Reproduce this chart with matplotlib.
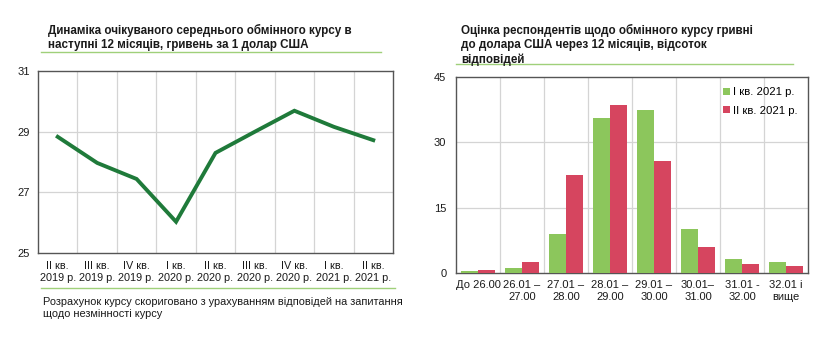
import matplotlib
matplotlib.use("Agg")
import matplotlib.pyplot as plt
import numpy as np
from matplotlib.lines import Line2D

plt.rcParams['font.family'] = ['Liberation Sans', 'DejaVu Sans']

# Expected average exchange rate, UAH per 1 USD
quarters = ["II кв.\n2019 р.", "III кв.\n2019 р.", "IV кв.\n2019 р.", "I кв.\n2020 р.",
            "II кв.\n2020 р.", "III кв.\n2020 р.", "IV кв.\n2020 р.", "I кв.\n2021 р.",
            "II кв.\n2021 р."]
expected_rate = [28.83, 27.97, 27.44, 26.03, 28.30, 29.00, 29.69, 29.16, 28.72]
rate_ticks = [25, 27, 29, 31]

# Distribution of answers, % of respondents
ranges = ["До 26.00", "26.01 –\n27.00", "27.01 –\n28.00", "28.01 –\n29.00",
          "29.01 –\n30.00", "30.01–\n31.00", "31.01 -\n32.00", "32.01 і\nвище"]
share_q1_2021 = [0.5, 1.2, 8.9, 35.5, 37.5, 10.0, 3.1, 2.5]
share_q2_2021 = [0.7, 2.45, 22.5, 38.5, 25.7, 6.0, 2.1, 1.5]
share_ticks = [0, 15, 30, 45]
series_names = ["I кв. 2021 р.", "II кв. 2021 р."]

W, H = 835, 348
fig = plt.figure(figsize=(W / 100, H / 100), dpi=100)
fig.patch.set_facecolor("white")

LINE_GREEN = "#1f7a3a"
BAR_GREEN = "#8cc65c"
BAR_RED = "#d6455f"
RULE_GREEN = "#9fd07a"
GRID = "#d4d4d4"
FRAME = "#555555"
TEXT = "#1a1a1a"


def px_axes(x0, y0, x1, y1):
    return fig.add_axes([x0 / W, 1 - y1 / H, (x1 - x0) / W, (y1 - y0) / H])


def style_frame(ax):
    for side in ["top", "right", "left", "bottom"]:
        ax.spines[side].set_color(FRAME)
        ax.spines[side].set_linewidth(1.0)
    ax.tick_params(axis="both", length=0, colors=TEXT, pad=6)


def rule(x0, x1, y):
    fig.add_artist(Line2D([x0 / W, x1 / W], [1 - y / H, 1 - y / H],
                          color=RULE_GREEN, lw=1.0, transform=fig.transFigure))


# ---- Left panel: line chart ----
ax1 = px_axes(38, 71, 393, 253)
style_frame(ax1)
x = np.arange(len(quarters))
ax1.plot(x, expected_rate, color=LINE_GREEN, lw=2.8, solid_joinstyle="miter", zorder=3)
ax1.set_xlim(-0.5, len(quarters) - 0.5)
ax1.set_ylim(25, 31)
ax1.set_yticks(rate_ticks)
ax1.set_yticklabels([str(v) for v in rate_ticks])
ax1.set_xticks(x)
ax1.set_xticklabels(quarters, linespacing=1.25)
ax1.tick_params(axis="x", labelsize=7.8, pad=6)
ax1.tick_params(axis="y", labelsize=8, pad=6)
for b in np.arange(0.5, len(quarters) - 0.5, 1):
    ax1.axvline(b, color=GRID, lw=0.9, zorder=1)
for v in rate_ticks[1:-1]:
    ax1.axhline(v, color=GRID, lw=0.9, zorder=1)

fig.text(48 / W, 1 - 24 / H,
         "Динаміка очікуваного середнього обмінного курсу в\nнаступні 12 місяців, гривень за 1 долар США",
         fontsize=8.4, fontweight="bold", color=TEXT, va="top", ha="left", linespacing=1.25)
rule(41, 381, 52)
rule(41, 395, 288)
fig.text(43 / W, 1 - 297 / H,
         "Розрахунок курсу скориговано з урахуванням відповідей на запитання\nщодо незмінності курсу",
         fontsize=7.9, color=TEXT, va="top", ha="left", linespacing=1.25)

# ---- Right panel: grouped bars ----
ax2 = px_axes(456, 77, 808, 273)
style_frame(ax2)
xr = np.arange(len(ranges))
bw = 0.38
ax2.bar(xr - bw / 2, share_q1_2021, width=bw, color=BAR_GREEN, zorder=3, label=series_names[0])
ax2.bar(xr + bw / 2, share_q2_2021, width=bw, color=BAR_RED, zorder=3, label=series_names[1])
ax2.set_xlim(-0.5, len(ranges) - 0.5)
ax2.set_ylim(0, 45)
ax2.set_yticks(share_ticks)
ax2.set_yticklabels([str(v) for v in share_ticks])
ax2.tick_params(axis="y", labelsize=8, pad=7)
ax2.set_xticks(xr)
ax2.set_xticklabels(ranges, linespacing=1.2)
ax2.tick_params(axis="x", labelsize=8, pad=5)
for b in np.arange(0.5, len(ranges) - 0.5, 1):
    ax2.axvline(b, color=GRID, lw=0.9, zorder=1)
for v in share_ticks[1:-1]:
    ax2.axhline(v, color=GRID, lw=0.9, zorder=1)
leg = ax2.legend(loc="upper right", bbox_to_anchor=(1.0, 1.0), frameon=False,
                 fontsize=8.2, handlelength=0.6, handleheight=0.6, handletextpad=0.3,
                 labelspacing=0.75, borderaxespad=0.5)
leg.set_zorder(5)

fig.text(461 / W, 1 - 24 / H,
         "Оцінка респондентів щодо обмінного курсу гривні\nдо долара США через 12 місяців, відсоток\nвідповідей",
         fontsize=8.4, fontweight="bold", color=TEXT, va="top", ha="left", linespacing=1.22)
rule(456, 793, 64)

fig.savefig("out.png", dpi=100, facecolor="white")
